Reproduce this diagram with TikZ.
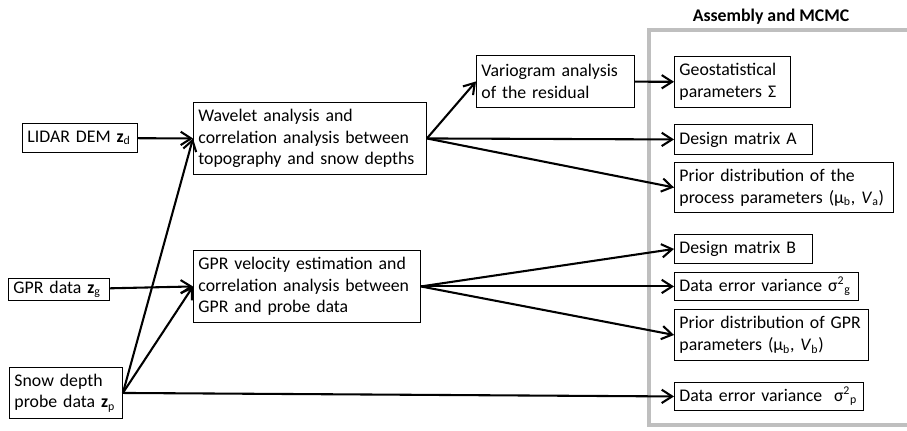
\documentclass[tikz,border=0pt]{standalone}
\usepackage{fontspec}
\setmainfont{Carlito}
\usetikzlibrary{arrows.meta}
\newlength\pxu
\setlength\pxu{0.675pt}
\tikzset{
    box/.style={draw, line width=0.6pt, align=left, anchor=north west,
        inner xsep=5\pxu, inner ysep=0pt},
    arr/.style={-{Straight Barb[length=7pt,width=9pt]}, line width=1.4pt},
}
\begin{document}
\begin{tikzpicture}[x=\pxu, y=-\pxu, font=\fontsize{12}{14.6}\selectfont]
    \useasboundingbox (0,0) rectangle (907,430);

    % Assembly frame
    \draw[line width=2.7pt, color=black!25] (907,30) -| (649,425) -- (907,425);
    \node[font=\fontsize{12}{14.6}\selectfont\bfseries] (title) at (771,17) {Assembly and MCMC};

    % Data sets
    \node[box, text width=105\pxu, minimum height=29\pxu] (lidar) at (22,123) {LIDAR DEM \textbf{z}\textsubscript{d}};
    \node[box, text width=91\pxu, minimum height=22\pxu] (gpr) at (8,278) {GPR data \textbf{z}\textsubscript{g}};
    \node[box, text width=103\pxu, minimum height=51\pxu] (probe) at (9,367) {Snow depth\\probe data \textbf{z}\textsubscript{p}};

    % Analysis steps
    \node[box, text width=223\pxu, minimum height=72\pxu] (wavelet) at (193,102) {Wavelet analysis and\\correlation analysis between\\topography and snow depths};
    \node[box, text width=217\pxu, minimum height=72\pxu] (velocity) at (193,250) {GPR velocity estimation and\\correlation analysis between\\GPR and probe data};
    \node[box, text width=148\pxu, minimum height=52\pxu] (vario) at (476,55) {Variogram analysis\\of the residual};

    % Model components
    \node[box, text width=106\pxu, minimum height=51\pxu] (geo) at (674,56) {Geostatistical\\parameters Σ};
    \node[box, text width=128\pxu, minimum height=30\pxu] (desA) at (674,124) {Design matrix A};
    \node[box, text width=209\pxu, minimum height=50\pxu] (priorA) at (674,162) {Prior distribution of the\\process parameters (μ\textsubscript{b}, \textit{V}\textsubscript{a})};
    \node[box, text width=128\pxu, minimum height=29\pxu] (desB) at (674,234) {Design matrix B};
    \node[box, text width=174\pxu, minimum height=28\pxu] (errg) at (674,272) {Data error variance σ\textsuperscript{2}\textsubscript{g}};
    \node[box, text width=184\pxu, minimum height=51\pxu] (priorB) at (674,309) {Prior distribution of GPR\\parameters (μ\textsubscript{b}, \textit{V}\textsubscript{b})};
    \node[box, text width=179\pxu, minimum height=28\pxu] (errp) at (674,382) {Data error variance\ \ σ\textsuperscript{2}\textsubscript{p}};

    % Connections
    \draw[arr] (lidar) -- (wavelet.west);
    \draw[arr] (gpr) -- (velocity.west);
    \draw[arr] (probe.east) -- (wavelet.west);
    \draw[arr] (probe.east) -- (velocity.west);
    \draw[arr] (probe.east) -- (errp.west);
    \draw[arr] (wavelet.east) -- (vario.west);
    \draw[arr] (wavelet.east) -- (desA.west);
    \draw[arr] (wavelet.east) -- (priorA.west);
    \draw[arr] (vario) -- (geo);
    \draw[arr] (velocity.east) -- (desB.west);
    \draw[arr] (velocity.east) -- (errg.west);
    \draw[arr] (velocity.east) -- (priorB.west);
\end{tikzpicture}
\end{document}
